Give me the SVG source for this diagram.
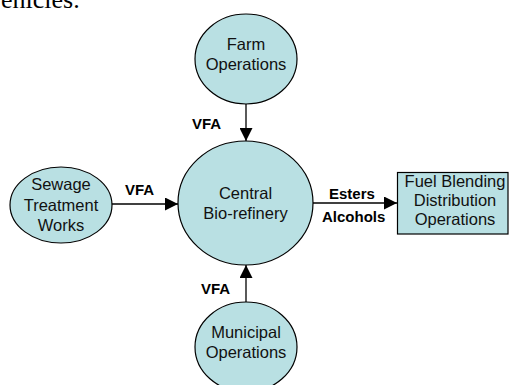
<svg xmlns="http://www.w3.org/2000/svg" width="509" height="385" viewBox="0 0 509 385">
<style>
.n{fill:#b9e0e3;stroke:#000;stroke-width:1.2}
.t{font-family:"Liberation Sans",Arial,sans-serif;font-size:16.5px;fill:#111;text-anchor:middle}
.l{font-family:"Liberation Sans",Arial,sans-serif;font-size:15px;font-weight:bold;fill:#000}
.c{stroke:#000;stroke-width:1.3;fill:none;marker-end:url(#a)}
</style>
<defs>
<marker id="a" viewBox="0 0 10 10" refX="10" refY="5" markerWidth="13" markerHeight="13" markerUnits="userSpaceOnUse" orient="auto">
<path d="M0,0 L10,5 L0,10 z" fill="#000"/>
</marker>
</defs>
<rect width="509" height="385" fill="#fff"/>
<text x="1" y="8" font-family="Liberation Serif,'Times New Roman',serif" font-size="26" fill="#000">ehicles.</text>
<g id="connectors">
<line class="c" x1="246" y1="104" x2="246" y2="141"/>
<line class="c" x1="112" y1="204" x2="178" y2="204"/>
<line class="c" x1="246" y1="302" x2="246" y2="265"/>
<line class="c" x1="313" y1="203" x2="397" y2="203"/>
<text class="l" x="192" y="129" font-size="16">VFA</text>
<text class="l" x="125" y="195" font-size="16">VFA</text>
<text class="l" x="201" y="294" font-size="16">VFA</text>
<text class="l" x="329" y="199" font-size="14.5">Esters</text>
<text class="l" x="322" y="222" font-size="14.5">Alcohols</text>
</g>
<g id="farm">
<ellipse class="n" cx="246" cy="59" rx="51" ry="45"/>
<text class="t" x="246" y="50">Farm</text>
<text class="t" x="246" y="70">Operations</text>
</g>
<g id="central">
<ellipse class="n" cx="245.5" cy="203" rx="67.5" ry="62"/>
<text class="t" x="245.5" y="199">Central</text>
<text class="t" x="245.5" y="219">Bio-refinery</text>
</g>
<g id="sewage">
<ellipse class="n" cx="61" cy="205" rx="51" ry="38"/>
<text class="t" x="61" y="190">Sewage</text>
<text class="t" x="61" y="211">Treatment</text>
<text class="t" x="61" y="231">Works</text>
</g>
<g id="municipal">
<ellipse class="n" cx="246" cy="347" rx="51" ry="45"/>
<text class="t" x="246" y="338">Municipal</text>
<text class="t" x="246" y="358">Operations</text>
</g>
<g id="fuel">
<rect class="n" x="397.5" y="172.5" width="110.5" height="61.5"/>
<text class="t" x="455" y="187">Fuel Blending</text>
<text class="t" x="455" y="206">Distribution</text>
<text class="t" x="455" y="225">Operations</text>
</g>
</svg>
